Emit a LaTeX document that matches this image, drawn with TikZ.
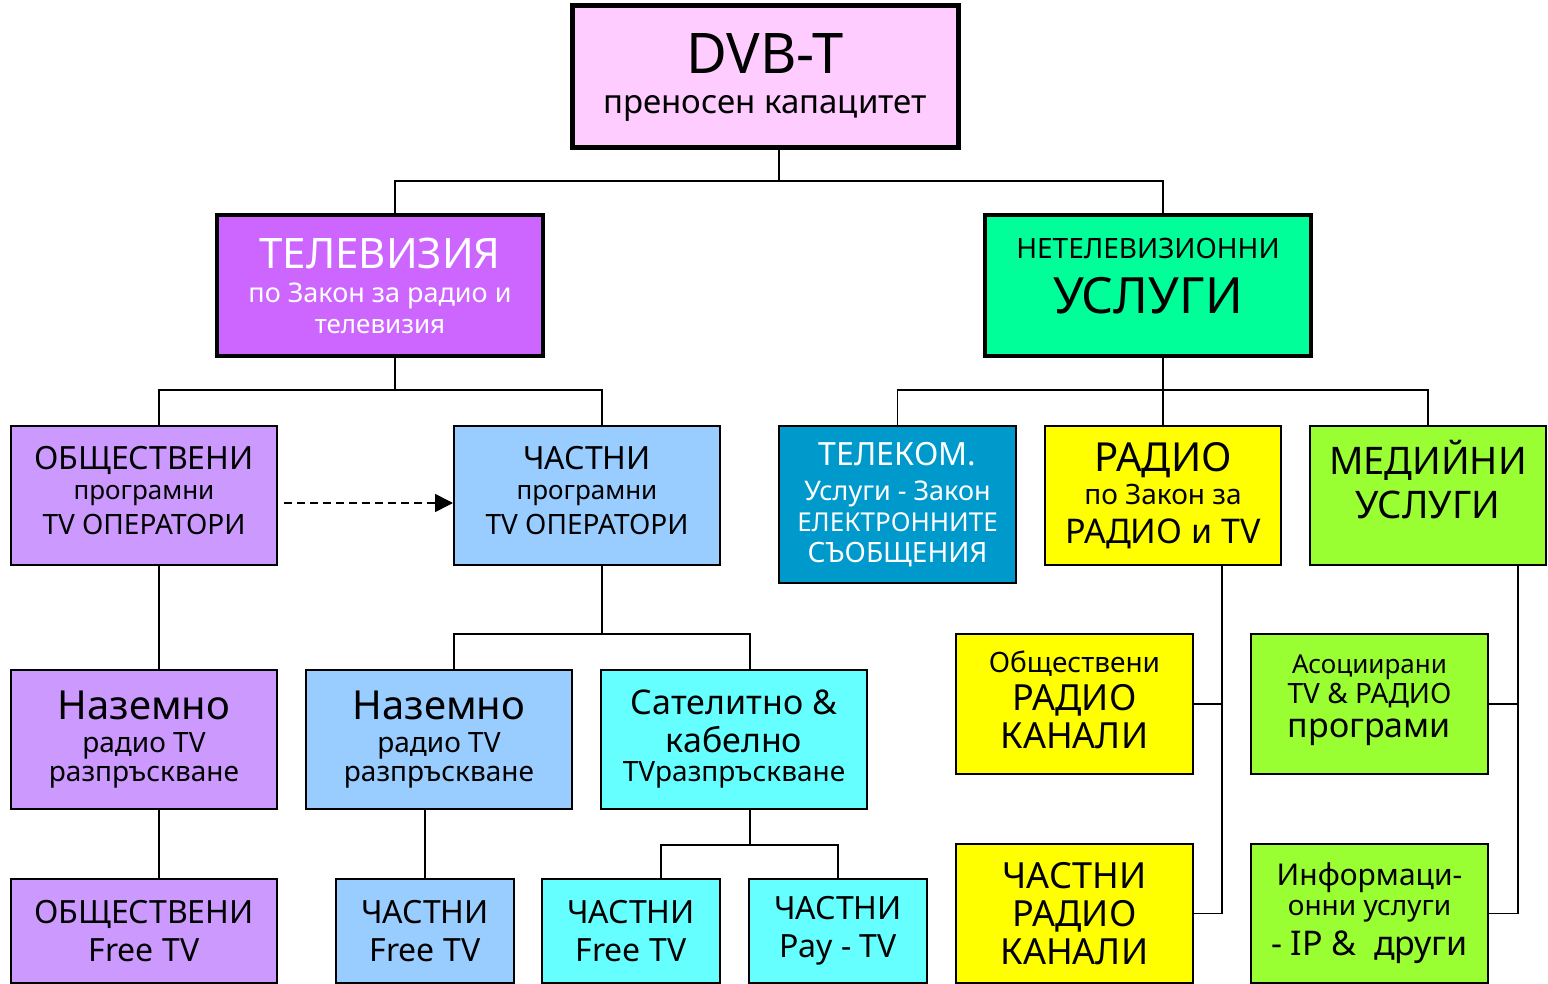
\documentclass[tikz,border=0pt]{standalone}
\usepackage{fontspec}
\setmainfont{Noto Sans}
\usetikzlibrary{arrows.meta,calc}
\definecolor{PinkClr}{RGB}{255,204,255}
\definecolor{VioletClr}{RGB}{204,102,255}
\definecolor{MintClr}{RGB}{0,255,153}
\definecolor{LilacClr}{RGB}{204,153,255}
\definecolor{SkyClr}{RGB}{153,204,255}
\definecolor{TealClr}{RGB}{0,153,204}
\definecolor{YellowClr}{RGB}{255,255,0}
\definecolor{LimeClr}{RGB}{153,255,51}
\definecolor{CyanClr}{RGB}{102,255,255}
\newcommand{\fz}[1]{\fontsize{#1}{0pt}\selectfont}
\newcommand{\tightlines}{\baselineskip=0pt\relax\lineskip=0pt\relax\lineskiplimit=-1000pt\relax}

\begin{document}
\begin{tikzpicture}[x=0.5pt,y=-0.5pt,
  box/.style 2 args={draw,line width=1pt,align=center,inner sep=0pt,minimum width=#1,minimum height=#2,font=\tightlines},
  link/.style={line width=0.8pt}]
\useasboundingbox (0,0) rectangle (1548,984);

% top levels
\node[box={193pt}{71pt},fill=PinkClr,line width=2.5pt] (dvb) at (765,77) {\fz{28}DVB-T\\[20pt]\fz{16.5}преносен капацитет};
\node[box={163pt}{70.5pt},fill=VioletClr,line width=1.8pt,text=white] (tv) at (380,285.5) {\fz{21}ТЕЛЕВИЗИЯ\\[17pt]\fz{13.5}по Закон за радио и\\[15.5pt]\fz{13}телевизия};
\node[box={163pt}{70.5pt},fill=MintClr,line width=1.8pt] (net) at (1148,285.5) {\fz{14}НЕТЕЛЕВИЗИОННИ\\[27.5pt]\fz{25}УСЛУГИ\\[9.5pt]\mbox{}};

% operators and services
\node[box={133pt}{69.5pt},fill=LilacClr] (pubop) at (144,495.5) {\fz{16}ОБЩЕСТВЕНИ\\[15pt]\fz{13}програмни\\[17.5pt]\fz{14}TV ОПЕРАТОРИ\\[5pt]\mbox{}};
\node[box={133pt}{69.5pt},fill=SkyClr] (privop) at (587,495.5) {\fz{16}ЧАСТНИ\\[15pt]\fz{13}програмни\\[17.5pt]\fz{14}TV ОПЕРАТОРИ\\[5pt]\mbox{}};
\node[box={118.5pt}{78.5pt},fill=TealClr,text=white] (tel) at (897.5,504.5) {\fz{16}ТЕЛЕКОМ.\\[17.5pt]\fz{13.5}Услуги - Закон\\[15.5pt]\fz{13}ЕЛЕКТРОННИТЕ\\[15.5pt]\fz{14}СЪОБЩЕНИЯ};
\node[box={118pt}{69.5pt},fill=YellowClr] (radio) at (1163,495.5) {\fz{20}РАДИО\\[16.5pt]\fz{14}по Закон за\\[19.5pt]\fz{17}РАДИО и TV};
\node[box={118pt}{69.5pt},fill=LimeClr] (media) at (1428,495.5) {\fz{19}МЕДИЙНИ\\[22pt]\fz{19}УСЛУГИ\\[16pt]\mbox{}};

% broadcasting
\node[box={133pt}{69.5pt},fill=LilacClr] (pubter) at (144,739.5) {\fz{20}Наземно\\[16.5pt]\fz{14}радио TV\\[14.5pt]\fz{14}разпръскване};
\node[box={133pt}{69.5pt},fill=SkyClr] (privter) at (439,739.5) {\fz{20}Наземно\\[16.5pt]\fz{14}радио TV\\[14.5pt]\fz{14}разпръскване};
\node[box={133pt}{69.5pt},fill=CyanClr] (sat) at (734,739.5) {\fz{17}Сателитно \&\\[19pt]\fz{17}кабелно\\[14.5pt]\fz{14}TVразпръскване};

% channels
\node[box={133pt}{52pt},fill=LilacClr] (pubfree) at (144,931) {\fz{16}ОБЩЕСТВЕНИ\\[19pt]\fz{16}Free TV};
\node[box={89pt}{52pt},fill=SkyClr] (privfree) at (425,931) {\fz{16}ЧАСТНИ\\[19pt]\fz{16}Free TV};
\node[box={89pt}{52pt},fill=CyanClr] (satfree) at (631,931) {\fz{16}ЧАСТНИ\\[19pt]\fz{16}Free TV};
\node[box={89pt}{52pt},fill=CyanClr] (satpay) at (838,931) {\fz{16}ЧАСТНИ\\[19pt]\fz{16}Pay - TV};
\node[box={118.5pt}{70pt},fill=YellowClr] (pubradio) at (1074.5,704) {\fz{14}Обществени\\[19pt]\fz{18}РАДИО\\[19pt]\fz{18}КАНАЛИ\\[4pt]\mbox{}};
\node[box={118.5pt}{69.5pt},fill=YellowClr] (privradio) at (1074.5,913.5) {\fz{18}ЧАСТНИ\\[19pt]\fz{18}РАДИО\\[19pt]\fz{18}КАНАЛИ};
\node[box={118.5pt}{70pt},fill=LimeClr] (assoc) at (1369.5,704) {\fz{13}Асоциирани\\[15pt]\fz{14}TV \& РАДИО\\[17pt]\fz{17}програми\\[8pt]\mbox{}};
\node[box={118.5pt}{69.5pt},fill=LimeClr] (info) at (1369.5,913.5) {\fz{15}Информаци-\\[15pt]\fz{14}онни услуги\\[20pt]\fz{17}- IP \&\ \ други\\[4pt]\mbox{}};

\coordinate (b0) at (779,181);
\coordinate (b1) at (395,390);
\coordinate (b2) at (1163,390);
\coordinate (b3) at (602,634);
\coordinate (b4) at (750,845);
\coordinate (r1) at (1222,913.5);
\coordinate (m1) at (1518,913.5);

\draw[link] ([xshift=7pt]dvb.south) -- (b0) -| ([xshift=7.5pt]tv.north);
\draw[link] (b0) -| ([xshift=7.5pt]net.north);
\draw[link] ([xshift=7.5pt]tv.south) -- (b1) -| ([xshift=7.5pt]pubop.north);
\draw[link] (b1) -| ([xshift=7.5pt]privop.north);
\draw[link] (net.south -| b2) -- (b2) -| (tel.north);
\draw[link] (b2) -- (radio.north);
\draw[link] (b2) -| (media.north);
\draw[link,dashed,dash pattern=on 4pt off 2.5pt,-{Triangle[length=9pt,width=9pt]}] ([shift={(3pt,-3.75pt)}]pubop.east) -- ([yshift=-3.75pt]privop.west);
\draw[link] ([xshift=7.5pt]pubop.south) -- ([xshift=7.5pt]pubter.north);
\draw[link] ([xshift=7.5pt]privop.south) -- (b3) -| ([xshift=7.5pt]privter.north);
\draw[link] (b3) -| ([xshift=8pt]sat.north);
\draw[link] ([xshift=7.5pt]pubter.south) -- ([xshift=7.5pt]pubfree.north);
\draw[link] (privfree.north |- privter.south) -- (privfree.north);
\draw[link] ([xshift=8pt]sat.south) -- (b4) -| ([xshift=15pt]satfree.north);
\draw[link] (b4) -| (satpay.north);
\draw[link] (radio.south -| r1) -- (r1) -- (privradio.east);
\draw[link] (pubradio.east) -- (pubradio.east -| r1);
\draw[link] (media.south -| m1) -- (m1) -- (info.east);
\draw[link] (assoc.east) -- (assoc.east -| m1);

\end{tikzpicture}
\end{document}
